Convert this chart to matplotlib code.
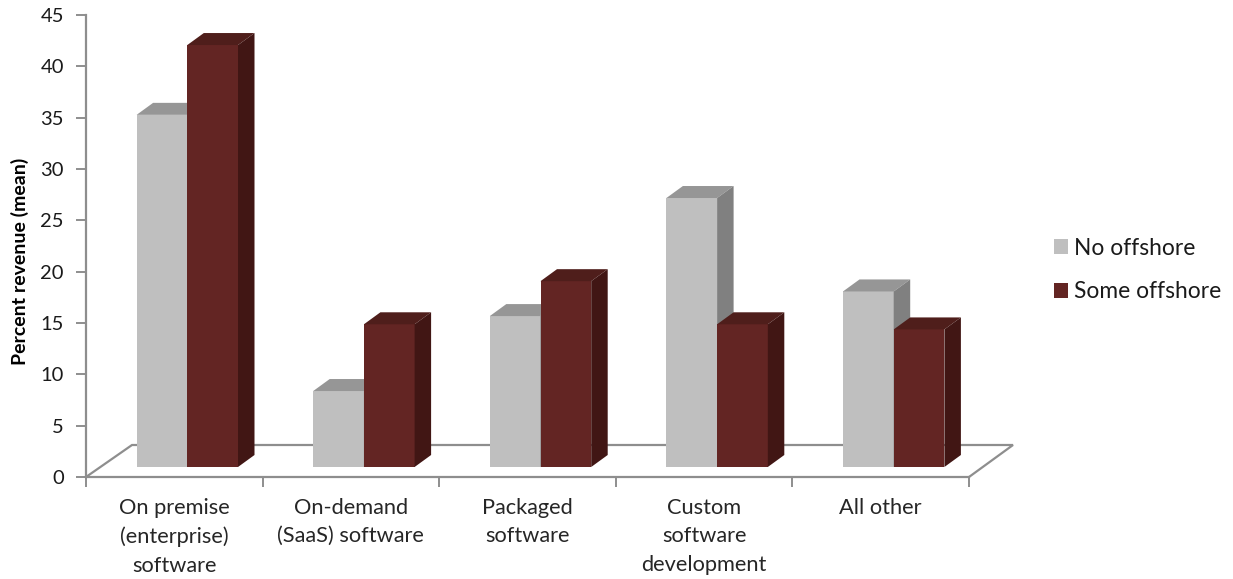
import matplotlib
matplotlib.use('Agg')
import matplotlib.pyplot as plt
from matplotlib.patches import Polygon, Patch

categories = ['On premise\n(enterprise)\nsoftware', 'On-demand\n(SaaS) software', 'Packaged\nsoftware',
              'Custom\nsoftware\ndevelopment', 'All other']
no_offshore = [34.3, 7.4, 14.7, 26.2, 17.1]
some_offshore = [41.1, 13.9, 18.1, 13.9, 13.4]
y_ticks = [0, 5, 10, 15, 20, 25, 30, 35, 40, 45]

W, H = 1233, 579
AX_LEFT, AX_RIGHT, AX_TOP, AX_BOTTOM = 86, 969, 15, 477

GREY, GREY_TOP, GREY_SIDE = '#bfbfbf', '#969696', '#808080'
RED, RED_TOP, RED_SIDE = '#632523', '#4f1e1b', '#411614'
AXIS_COLOR = '#8e8e8e'

plt.rcParams['font.family'] = ['Lato', 'DejaVu Sans']

fig = plt.figure(figsize=(W / 100, H / 100), dpi=100)
ax = fig.add_axes([AX_LEFT / W, 1 - AX_BOTTOM / H, (AX_RIGHT - AX_LEFT) / W, (AX_BOTTOM - AX_TOP) / H])
ax.set_xlim(-0.5, 4.5)
ax.set_ylim(0, 45)

# pixel sizes turned into data units
px_x = 5 / (AX_RIGHT - AX_LEFT)
px_y = 45 / (AX_BOTTOM - AX_TOP)
depth_x, depth_y = 16.5 * px_x, 12 * px_y
bar_w = 50.7 * px_x
base = 10 * px_y
shift = 13 * px_x


def draw_bar(x0, value, front, top, side, z):
    y1 = base + value
    ax.bar(x0, value, width=bar_w, bottom=base, align='edge', color=front, linewidth=0, zorder=z)
    x1 = x0 + bar_w
    ax.add_patch(Polygon([(x0, y1), (x1, y1), (x1 + depth_x, y1 + depth_y), (x0 + depth_x, y1 + depth_y)],
                         facecolor=top, linewidth=0, zorder=z, clip_on=False))
    ax.add_patch(Polygon([(x1, base), (x1 + depth_x, base + depth_y), (x1 + depth_x, y1 + depth_y), (x1, y1)],
                         facecolor=side, linewidth=0, zorder=z, clip_on=False))


# the floor of the 3D box
floor_h = 32 * px_y
floor_dx = 46 * px_x
ax.plot([-0.5, -0.5 + floor_dx, 4.5 + floor_dx - 2 * px_x, 4.5], [0, floor_h, floor_h, 0], color=AXIS_COLOR, lw=1.6,
        clip_on=False, zorder=1, solid_joinstyle='miter')

for i in range(len(categories)):
    draw_bar(i + shift, some_offshore[i], RED, RED_TOP, RED_SIDE, 3)
    draw_bar(i + shift - bar_w, no_offshore[i], GREY, GREY_TOP, GREY_SIDE, 2)

for s in ['top', 'right']:
    ax.spines[s].set_visible(False)
for s in ['left', 'bottom']:
    ax.spines[s].set_color(AXIS_COLOR)
    ax.spines[s].set_linewidth(1.6)

ax.set_yticks(y_ticks)
ax.set_xticks([-0.5, 0.5, 1.5, 2.5, 3.5, 4.5])
ax.set_xticklabels([])
ax.tick_params(axis='y', length=7, width=1.4, color=AXIS_COLOR, labelsize=14.5, pad=9, labelcolor='#1a1a1a')
ax.tick_params(axis='x', length=7, width=1.4, color=AXIS_COLOR)
ax.set_ylabel('Percent revenue (mean)', fontsize=14, fontweight='bold', color='black')
ax.yaxis.set_label_coords((29 - AX_LEFT) / (AX_RIGHT - AX_LEFT), 0.5 - (15 / (AX_BOTTOM - AX_TOP)))

for i, cat in enumerate(categories):
    ax.text(i, -2.0, cat, ha='center', va='top', fontsize=15.7, color='#262626', linespacing=1.55, clip_on=False)

handles = [Patch(facecolor=GREY, label='No offshore'), Patch(facecolor=RED, label='Some offshore')]
fig.legend(handles=handles, loc='center left', bbox_to_anchor=(1054 / W, 1 - 270 / H), frameon=False, fontsize=16.4,
           handlelength=0.61, handleheight=0.61, handletextpad=0.25, labelspacing=1.0, borderpad=0, borderaxespad=0,
           labelcolor='#1a1a1a')

fig.savefig('out.png', dpi=100)
